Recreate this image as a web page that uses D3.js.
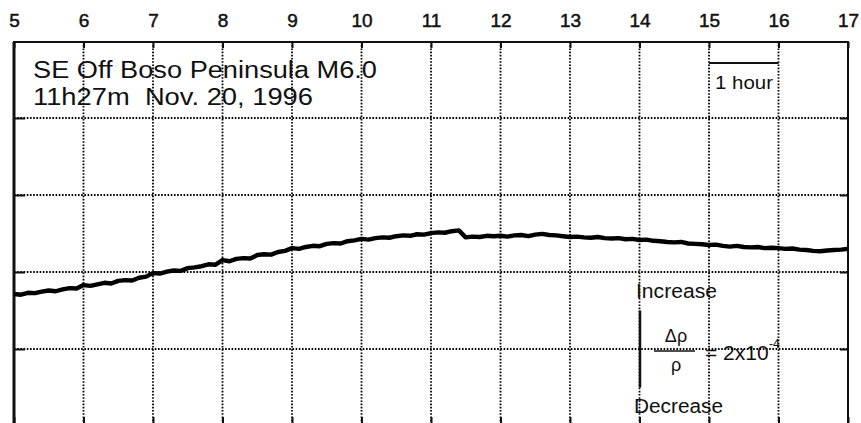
<!DOCTYPE html>
<html>
<head>
<meta charset="utf-8">
<script src="https://cdn.jsdelivr.net/npm/d3@7"></script>
<style>
body { margin:0; background:#fff; }
text { font-family:"Liberation Sans", Arial, sans-serif; fill:#111; white-space:pre; }
</style>
</head>
<body>
<svg id="chart" width="861" height="423"></svg>
<script>
// hours of the day (top axis)
var hourTicks = [5,6,7,8,9,10,11,12,13,14,15,16,17];
// relative resistivity level, x10^-4 (grid rows)
var levelTicks = [2,4,6,8];
// trace sampled every 0.1 h from 5h, value in units of 10^-4
var startHour = 5, stepHour = 0.1;
var rhoValues = [
  3.43,3.41,3.46,3.45,3.49,3.52,3.50,3.55,3.58,3.57,
  3.66,3.64,3.68,3.72,3.70,3.77,3.79,3.78,3.85,3.88,
  3.97,3.96,4.01,4.04,4.03,4.10,4.12,4.15,4.20,4.19,
  4.31,4.28,4.34,4.36,4.35,4.44,4.46,4.45,4.52,4.55,
  4.62,4.60,4.65,4.68,4.67,4.73,4.75,4.74,4.80,4.82,
  4.86,4.84,4.88,4.90,4.89,4.93,4.95,4.94,4.98,4.97,
  5.01,5.03,5.02,5.06,5.08,4.90,4.92,4.91,4.94,4.93,
  4.94,4.92,4.95,4.96,4.93,4.97,4.99,4.96,4.95,4.93,
  4.91,4.92,4.90,4.89,4.91,4.88,4.87,4.88,4.85,4.86,
  4.83,4.84,4.81,4.80,4.78,4.77,4.78,4.74,4.73,4.72,
  4.70,4.71,4.68,4.66,4.68,4.65,4.64,4.65,4.62,4.63,
  4.62,4.60,4.61,4.58,4.57,4.55,4.54,4.56,4.57,4.58,
  4.60
];
var titleLines = ["SE Off Boso Peninsula M6.0", "11h27m  Nov. 20, 1996"];
var titleWidths = [344, 280];

var svg = d3.select("#chart");
var x = d3.scaleLinear().domain([5,17]).range([14,848]);
var y = d3.scaleLinear().domain([0,10]).range([426,41]);
var plotTop = 42, plotBot = 423;

var data = rhoValues.map(function(v,i){ return {t: startHour+i*stepHour, v: v}; });

// dotted grid
svg.append("g").selectAll("line").data(hourTicks.slice(1,-1)).enter().append("line")
	.attr("x1",d=>x(d)).attr("x2",d=>x(d))
	.attr("y1",plotTop).attr("y2",plotBot)
	.attr("stroke","#000").attr("stroke-width",1.8).attr("stroke-dasharray","1.6,1.6");
svg.append("g").selectAll("line").data(levelTicks).enter().append("line")
	.attr("x1",x(5)).attr("x2",x(17))
	.attr("y1",d=>y(d)).attr("y2",d=>y(d))
	.attr("stroke","#000").attr("stroke-width",1.8).attr("stroke-dasharray","1.6,1.6");

// axes
var gTop = svg.append("g").attr("transform","translate(0,"+plotTop+")")
	.call(d3.axisTop(x).tickValues(hourTicks).tickSize(0).tickPadding(15).tickFormat(d3.format("d")));
gTop.select(".domain").remove();
gTop.selectAll("text").attr("font-size",19).attr("font-family",null)
	.attr("stroke","#111").attr("stroke-width",0.5);

function frameAxis(axis, tx, ty){
	var g = svg.append("g").attr("transform","translate("+tx+","+ty+")").call(axis);
	g.selectAll("text").remove();
	g.select(".domain").remove();
	g.selectAll("line").attr("stroke","#111").attr("stroke-width",2);
	return g;
}
frameAxis(d3.axisBottom(x).tickValues(hourTicks).tickSize(6), 0, plotTop);
frameAxis(d3.axisTop(x).tickValues(hourTicks).tickSize(6), 0, plotBot);
frameAxis(d3.axisRight(y).tickValues(levelTicks).tickSize(11), x(5), 0);
frameAxis(d3.axisLeft(y).tickValues(levelTicks).tickSize(8), x(17), 0);

svg.append("line").attr("x1",x(5)-1).attr("x2",x(17)+1).attr("y1",plotTop).attr("y2",plotTop)
	.attr("stroke","#111").attr("stroke-width",2);
svg.append("line").attr("x1",x(5)).attr("x2",x(5)).attr("y1",plotTop).attr("y2",plotBot)
	.attr("stroke","#111").attr("stroke-width",3);
svg.append("line").attr("x1",x(17)).attr("x2",x(17)).attr("y1",plotTop).attr("y2",plotBot)
	.attr("stroke","#111").attr("stroke-width",2);

// trace
svg.append("path").datum(data)
	.attr("d", d3.line().x(d=>x(d.t)).y(d=>y(d.v)))
	.attr("fill","none").attr("stroke","#000").attr("stroke-width",4.4)
	.attr("stroke-linejoin","round");

// title
svg.selectAll(".title").data(titleLines).enter().append("text")
	.attr("class","title")
	.attr("x",33).attr("y",(d,i)=>78+i*27)
	.attr("font-size",23)
	.attr("textLength",(d,i)=>titleWidths[i]).attr("lengthAdjust","spacingAndGlyphs")
	.text(d=>d);

// 1 hour scale bar
svg.append("line").attr("x1",x(15)).attr("x2",x(16)).attr("y1",63).attr("y2",63)
	.attr("stroke","#111").attr("stroke-width",2);
svg.append("text").attr("x",x(15)+6).attr("y",89).attr("font-size",18)
	.attr("textLength",58).attr("lengthAdjust","spacingAndGlyphs").text("1 hour");

// resistivity scale bar: 2x10^-4
var barX = 640;
svg.append("line").attr("x1",barX).attr("x2",barX).attr("y1",y(3)).attr("y2",y(1))
	.attr("stroke","#111").attr("stroke-width",2.5);
svg.append("text").attr("x",636).attr("y",298).attr("font-size",20)
	.attr("textLength",81).attr("lengthAdjust","spacingAndGlyphs").text("Increase");
svg.append("text").attr("x",634).attr("y",413).attr("font-size",20)
	.attr("textLength",89).attr("lengthAdjust","spacingAndGlyphs").text("Decrease");
svg.append("text").attr("x",676).attr("y",342).attr("font-size",18).attr("text-anchor","middle").text("\u0394\u03c1");
svg.append("line").attr("x1",654).attr("x2",695).attr("y1",351).attr("y2",351)
	.attr("stroke","#111").attr("stroke-width",1.5);
svg.append("text").attr("x",676).attr("y",371).attr("font-size",18).attr("text-anchor","middle").text("\u03c1");
svg.append("text").attr("x",705).attr("y",360).attr("font-size",21).text("= 2x10");
svg.append("text").attr("x",769).attr("y",348).attr("font-size",12).text("-4");
</script>
</body>
</html>
